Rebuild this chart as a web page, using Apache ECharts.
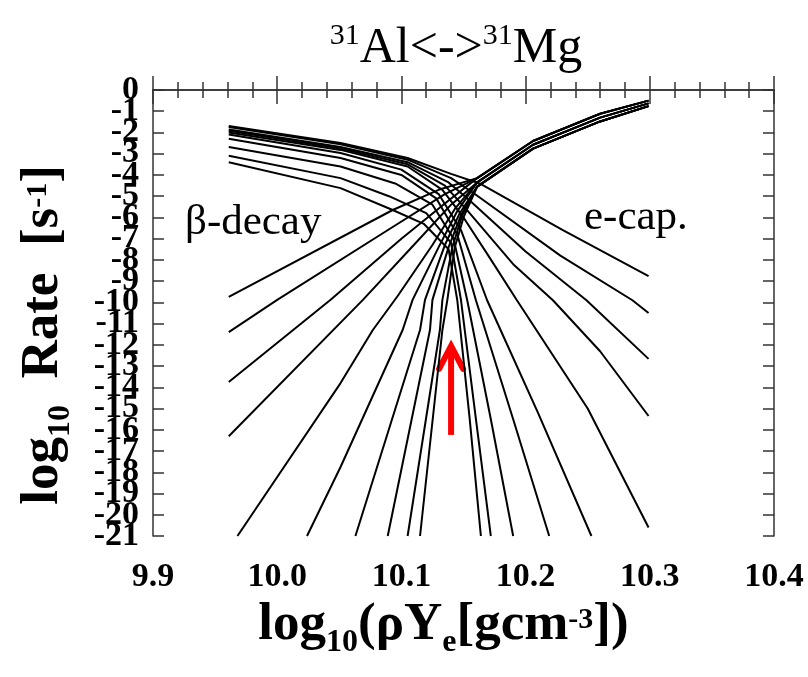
<!DOCTYPE html>
<html>
<head>
<meta charset="utf-8">
<script src="https://cdn.jsdelivr.net/npm/echarts/dist/echarts.min.js"></script>
<style>
  html, body { margin: 0; padding: 0; background: #fff; }
  #chart { width: 808px; height: 677px; }
</style>
</head>
<body>
<div id="chart"></div>
<script>
// band that all e-capture curves run into (top right): upper edge, middle, lower edge
const envHigh = [[10.161, -4.15], [10.206, -2.40], [10.260, -1.12], [10.299, -0.50]];
const envMid  = [[10.161, -4.35], [10.206, -2.58], [10.260, -1.30], [10.299, -0.63]];
const envLow  = [[10.161, -4.55], [10.206, -2.76], [10.260, -1.48], [10.299, -0.76]];

// e-capture curves, rising from the left
const ecap1  = [[9.961, -9.74], [10.093, -5.65], [10.130, -4.70], ...envHigh];
const ecap2  = [[9.961, -11.40], [10.000, -9.88], [10.093, -6.45], [10.135, -4.90], ...envHigh];
const ecap3  = [[9.961, -13.75], [10.043, -9.88], [10.100, -7.00], [10.138, -5.20], ...envHigh];
const ecap4  = [[9.961, -16.30], [10.069, -9.88], [10.110, -7.30], [10.140, -5.40], ...envMid];
const ecap5  = [[9.968, -21.00], [10.051, -13.80], [10.077, -11.30], [10.097, -9.70], [10.125, -7.30], [10.143, -5.60], ...envMid];
const ecap6  = [[10.024, -21.00], [10.051, -17.75], [10.101, -11.30], [10.109, -9.88], [10.130, -7.40], [10.145, -5.70], ...envMid];
const ecap7  = [[10.063, -21.00], [10.115, -11.30], [10.119, -9.88], [10.135, -7.30], [10.147, -5.80], ...envLow];
const ecap8  = [[10.089, -21.00], [10.123, -11.30], [10.125, -9.88], [10.138, -7.40], [10.148, -5.90], ...envLow];
const ecap9  = [[10.105, -21.00], [10.131, -11.30], [10.133, -9.88], [10.141, -7.40], [10.149, -5.90], ...envLow];
const ecap10 = [[10.115, -21.00], [10.133, -11.30], [10.137, -9.88], [10.143, -7.40], [10.150, -6.00], ...envLow];

// beta-decay curves, from the upper left bundle down through the centre
const beta1  = [[9.961, -1.69], [10.051, -2.50], [10.105, -3.20], [10.140, -3.95], [10.163, -4.40], [10.230, -6.60], [10.299, -8.76]];
const beta2  = [[9.961, -1.74], [10.051, -2.55], [10.105, -3.28], [10.140, -4.15], [10.158, -4.85], [10.228, -7.80], [10.286, -9.90], [10.299, -10.50]];
const beta3  = [[9.961, -1.86], [10.051, -2.68], [10.105, -3.40], [10.138, -4.35], [10.155, -5.20], [10.200, -7.60], [10.249, -9.90], [10.299, -12.66]];
const beta4  = [[9.961, -1.92], [10.051, -2.75], [10.105, -3.50], [10.135, -4.50], [10.152, -5.60], [10.190, -8.20], [10.222, -9.90], [10.260, -12.30], [10.299, -15.35]];
const beta5  = [[9.961, -2.00], [10.051, -2.82], [10.105, -3.60], [10.133, -4.70], [10.150, -6.00], [10.170, -7.80], [10.193, -9.90], [10.250, -15.00], [10.299, -20.60]];
const beta6  = [[9.961, -2.10], [10.051, -2.97], [10.100, -3.75], [10.130, -4.90], [10.148, -6.60], [10.169, -9.90], [10.210, -15.20], [10.253, -21.00]];
const beta7  = [[9.961, -2.30], [10.051, -3.20], [10.100, -4.00], [10.128, -5.10], [10.145, -6.80], [10.160, -9.90], [10.190, -15.50], [10.219, -21.00]];
const beta8  = [[9.961, -2.68], [10.051, -3.60], [10.095, -4.40], [10.125, -5.40], [10.142, -7.00], [10.153, -9.90], [10.172, -15.50], [10.190, -21.00]];
const beta9  = [[9.961, -3.10], [10.051, -4.15], [10.090, -5.00], [10.120, -5.80], [10.140, -7.20], [10.148, -9.90], [10.160, -15.50], [10.172, -21.00]];
const beta10 = [[9.961, -3.40], [10.051, -4.62], [10.093, -5.65], [10.118, -6.30], [10.138, -7.50], [10.145, -9.90], [10.155, -15.50], [10.164, -21.00]];

// red arrow: x, y of tail, y of tip
const arrow = [[10.140, -16.24, -12.05]];

const serif = '"Liberation Serif", "DejaVu Serif", serif';
const axisColor = '#333';

const chart = echarts.init(document.getElementById('chart'));

const curves = [beta1, beta2, beta3, beta4, beta5, beta6, beta7, beta8, beta9, beta10,
                ecap1, ecap2, ecap3, ecap4, ecap5, ecap6, ecap7, ecap8, ecap9, ecap10];

const curveSeries = curves.map((pts) => ({
    type: 'line',
    data: pts,
    showSymbol: false,
    symbol: 'none',
    clip: true,
    silent: true,
    lineStyle: { color: '#000', width: 2 },
}));

const arrowSeries = {
    type: 'custom',
    data: arrow,
    encode: { x: 0, y: 1 },
    clip: false,
    silent: true,
    renderItem: (params, api) => {
        const base = api.coord([api.value(0), api.value(1)]);
        const tip = api.coord([api.value(0), api.value(2)]);
        return {
            type: 'group',
            children: [
                { type: 'line', shape: { x1: base[0], y1: base[1], x2: tip[0], y2: tip[1] + 3 },
                  style: { stroke: '#ff0000', lineWidth: 6 } },
                { type: 'polyline', shape: { points: [[tip[0] - 12, tip[1] + 23], [tip[0], tip[1]], [tip[0] + 12, tip[1] + 23]] },
                  style: { stroke: '#ff0000', lineWidth: 6, fill: null, lineCap: 'round', lineJoin: 'miter' } },
            ],
        };
    },
};

const tickStyle = { color: axisColor, width: 1.5 };

const nameRich = {
    a: { fontFamily: serif, fontSize: 53, fontWeight: 'bold', lineHeight: 54, padding: [0, 0, 13, 0], color: '#000' },
    sub: { fontFamily: serif, fontSize: 32, fontWeight: 'bold', verticalAlign: 'bottom', lineHeight: 30, color: '#000' },
    sup: { fontFamily: serif, fontSize: 30, fontWeight: 'bold', verticalAlign: 'top', lineHeight: 32, color: '#000' },
};

const yLabelStyle = { margin: 14, showMinLabel: true, showMaxLabel: true,
                      fontFamily: serif, fontSize: 34, fontWeight: 'bold', color: '#000' };

// the tick labels overlap each other as in the original, so even and odd values
// are put on two stacked left axes and ECharts does not drop any of them
const options = {
    animation: false,
    backgroundColor: '#fff',
    grid: { left: 153, right: 34, top: 90, bottom: 141 },
    graphic: [
        { type: 'text', x: 456, y: 21,
          style: { text: '{sup|31}{m|Al<->}{sup|31}{m|Mg}', align: 'center', verticalAlign: 'top',
                   rich: { m: { fontFamily: serif, fontSize: 50, lineHeight: 56, fill: '#000' },
                           sup: { fontFamily: serif, fontSize: 30, lineHeight: 56, verticalAlign: 'top', padding: [0, 0, 30, 0], fill: '#000' } } } },
        { type: 'text', left: 185, top: 201,
          style: { text: 'β-decay', font: '43px ' + serif, fill: '#000' } },
        { type: 'text', left: 584, top: 196,
          style: { text: 'e-cap.', font: '43px ' + serif, fill: '#000' } },
    ],
    xAxis: [{
        type: 'value', min: 9.9, max: 10.4, interval: 0.1, position: 'bottom',
        axisLine: { lineStyle: tickStyle },
        axisTick: { inside: true, length: 14, lineStyle: tickStyle },
        minorTick: { show: true, splitNumber: 5, length: 8, lineStyle: tickStyle },
        splitLine: { show: false },
        axisLabel: { formatter: (v) => v.toFixed(1), margin: 24, fontFamily: serif, fontSize: 34, fontWeight: 'bold', color: '#000' },
        name: '{a|log}{sub|10}{a|(ρY}{sub|e}{a|[gcm}{sup|-3}{a|])}',
        nameLocation: 'middle', nameGap: 67,
        nameTextStyle: { padding: [0, 40, 0, 0], rich: nameRich },
    }, {
        type: 'value', min: 9.9, max: 10.4, interval: 0.1, position: 'top',
        axisLine: { lineStyle: tickStyle },
        axisTick: { inside: true, length: 14, lineStyle: tickStyle },
        minorTick: { show: true, splitNumber: 5, length: 8, lineStyle: tickStyle },
        splitLine: { show: false },
        axisLabel: { show: false },
    }],
    yAxis: [{
        type: 'value', min: -21, max: 0, interval: 1, position: 'left',
        axisLine: { lineStyle: tickStyle },
        axisTick: { inside: true, length: 11, lineStyle: tickStyle },
        splitLine: { show: false },
        axisLabel: Object.assign({ formatter: (v) => (Math.round(v) % 2 === 0 ? String(Math.round(v)) : '') }, yLabelStyle),
        name: '{a|log}{sub|10}{a|  Rate  [s}{sup|-1}{a|]}',
        nameLocation: 'middle', nameGap: 66,
        nameTextStyle: { padding: [0, 44, 0, 0], rich: nameRich },
    }, {
        type: 'value', min: -21, max: 0, interval: 1, position: 'right',
        axisLine: { lineStyle: tickStyle },
        axisTick: { inside: true, length: 11, lineStyle: tickStyle },
        splitLine: { show: false },
        axisLabel: { show: false },
    }, {
        type: 'value', min: -21, max: 0, interval: 1, position: 'left',
        axisLine: { show: false },
        axisTick: { show: false },
        splitLine: { show: false },
        axisLabel: Object.assign({ formatter: (v) => (Math.round(v) % 2 !== 0 ? String(Math.round(v)) : '') }, yLabelStyle),
    }],
    series: curveSeries.concat([arrowSeries]),
};

chart.setOption(options);
</script>
</body>
</html>
